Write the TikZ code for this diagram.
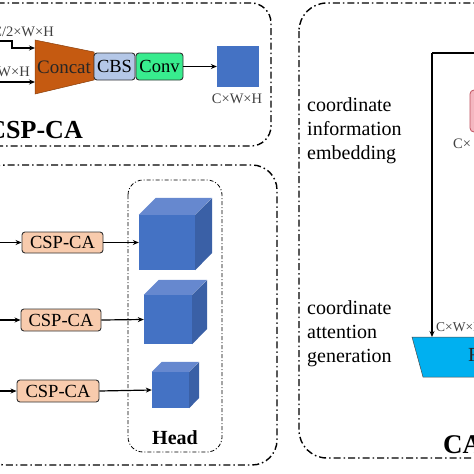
\documentclass[tikz,border=0pt]{standalone}
\usepackage{fontspec}
\setmainfont{Liberation Serif}
\usetikzlibrary{arrows.meta}
\definecolor{concatc}{HTML}{C55A11}
\definecolor{cbsc}{HTML}{B4C7E7}
\definecolor{convc}{HTML}{38EC8E}
\definecolor{bluec}{HTML}{4472C4}
\definecolor{bluetop}{HTML}{6688CF}
\definecolor{blueside}{HTML}{3A60A6}
\definecolor{cspc}{HTML}{F8CBAD}
\definecolor{pinkc}{HTML}{F4B6C0}
\definecolor{pinkb}{HTML}{C0505E}
\definecolor{trapc}{HTML}{00B0F0}
\begin{document}
\begin{tikzpicture}[x=1pt,y=-1pt,
  dd/.style={line width=1.4pt, dash pattern=on 7pt off 3pt on 1.5pt off 3pt},
  ddthin/.style={line width=0.8pt, dash pattern=on 4pt off 2pt on 1pt off 2pt},
  arr/.style={line width=1.2pt, -{Stealth[length=6pt,width=5pt]}},
  box/.style={draw=black!80, line width=0.9pt, rounded corners=3pt, inner sep=0pt, font=\fontsize{18.5}{20}\selectfont},
  csp/.style={box, fill=cspc, minimum height=21pt},
  lbl/.style={font=\fontsize{14.5}{15}\selectfont, text=black!75, inner sep=0pt},
  big/.style={font=\fontsize{20}{24}\selectfont, inner sep=0pt, align=left},
  face/.style={inner sep=0pt, fill=bluec}
]
\useasboundingbox (0,0) rectangle (474,474);
% ---------- panels ----------
\draw[dd, rounded corners=20pt] (-20,3) rectangle (271,146);
\draw[dd, rounded corners=25pt] (-20,165) rectangle (277,465);
\draw[dd, rounded corners=28pt] (299,3) rectangle (520,458);
\draw[ddthin, rounded corners=15pt] (128,180) rectangle (222,452);

% ---------- CSP-CA block ----------
\fill[concatc, draw=concatc!70!black, line width=0.5pt] (35,40) -- (94,52) -- (94,80) -- (35,94) -- cycle;
\node[inner sep=0pt, minimum width=59pt, minimum height=54pt, font=\fontsize{19}{20}\selectfont, text=black!85] (concat) at (64,67) {Concat};
\node[box, fill=cbsc, minimum width=41pt, minimum height=27pt] (cbs) at (114.5,66.5) {CBS};
\node[box, fill=convc, minimum width=47pt, minimum height=27pt] (conv) at (159.5,66.5) {Conv};
\node[inner sep=0pt, fill=bluec, minimum width=42pt, minimum height=41pt] (sq) at (238,66.5) {};
\node[lbl] (sqlbl) at (237,99) {C×W×H};

\coordinate (in1) at (-5,41);
\coordinate (in2) at (-5,82);
\coordinate (c1) at (35,48);
\coordinate (c2) at (35,82);
\draw[arr] (in1) -- (12,41) -- (12,48) -- (c1);
\draw[arr] (in2) -- (c2);
\node[lbl, anchor=east] (l1) at (54,32) {C/2×W×H};
\node[lbl, anchor=east] (l2) at (30,72) {C×W×H};
\draw[arr] (conv.east) -- (sq.west);
\node[font=\bfseries\fontsize{26}{28}\selectfont, inner sep=0pt, anchor=east] (title1) at (83,130) {CSP-CA};

% ---------- middle panel ----------
\node[csp, minimum width=81pt] (csp1) at (62.5,242.5) {CSP-CA};
\node[csp, minimum width=80pt, minimum height=22pt] (csp2) at (61,320) {CSP-CA};
\node[csp, minimum width=82pt, minimum height=22pt] (csp3) at (58,391) {CSP-CA};
\coordinate (r1) at (-3,242.5);
\coordinate (r2) at (-3,320);
\coordinate (r3) at (-3,391);
\draw[arr] (r1) -- (csp1.west);
\draw[arr] (r2) -- (csp2.west);
\draw[arr] (r3) -- (csp3.west);

% cubes
\node[face, minimum width=56pt, minimum height=55pt] (cb1) at (167,242.5) {};
\fill[bluetop] (cb1.north west) -- ++(17,-17) -- ++(56,0) -- (cb1.north east) -- cycle;
\fill[blueside] (cb1.north east) -- ++(17,-17) -- ++(0,55) -- (cb1.south east) -- cycle;
\node[face, minimum width=48pt, minimum height=49pt] (cb2) at (168,319.5) {};
\fill[bluetop] (cb2.north west) -- ++(15,-15) -- ++(48,0) -- (cb2.north east) -- cycle;
\fill[blueside] (cb2.north east) -- ++(15,-15) -- ++(0,49) -- (cb2.south east) -- cycle;
\node[face, minimum width=37pt, minimum height=36pt] (cb3) at (170.5,390) {};
\fill[bluetop] (cb3.north west) -- ++(10,-10) -- ++(37,0) -- (cb3.north east) -- cycle;
\fill[blueside] (cb3.north east) -- ++(10,-10) -- ++(0,36) -- (cb3.south east) -- cycle;
\draw[arr] (csp1.east) -- (cb1.west);
\draw[arr] (csp2.east) -- (cb2.west);
\draw[arr] (csp3.east) -- (cb3.west);
\node[font=\bfseries\fontsize{20}{22}\selectfont, inner sep=0pt] (head) at (175,438) {Head};

% ---------- CA panel ----------
\node[big, anchor=west] (t1) at (307,131) {coordinate\\information\\embedding};
\node[big, anchor=west] (t2) at (307,334) {coordinate\\attention\\generation};
\node[draw=pinkb, line width=0.8pt, fill=pinkc, rounded corners=4pt, minimum width=40pt, minimum height=42pt, inner sep=0pt] (pool) at (490,111) {};
\node[lbl, anchor=west] (pl) at (453,144) {C×};
\fill[trapc, draw=black!70, line width=0.5pt] (412,337) -- (530,337) -- (520,377) -- (423,377) -- cycle;
\node[font=\fontsize{20}{22}\selectfont, inner sep=0pt, anchor=west, text=black!85] (rw) at (468,357) {Re-weight};
\coordinate (ltop) at (432,53);
\coordinate (lright) at (480,53);
\coordinate (rwtop) at (432,337);
\draw[line width=1.2pt] (lright) -- (ltop);
\draw[arr] (ltop) -- (rwtop);
\node[lbl, font=\fontsize{13.5}{14}\selectfont, anchor=west] (cwl) at (436,327) {C×W×H};
\node[font=\bfseries\fontsize{27}{28}\selectfont, inner sep=0pt, anchor=west] (ca) at (443,445) {CA};
\end{tikzpicture}
\end{document}
